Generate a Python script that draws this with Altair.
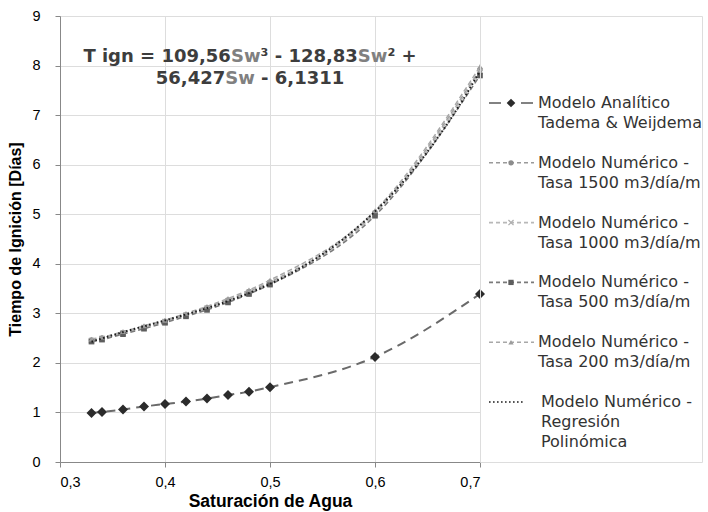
import altair as alt
import pandas as pd

# Saturación de agua (Sw) y tiempos de ignición [días]
sw = [0.33, 0.34, 0.36, 0.38, 0.40, 0.42, 0.44, 0.46, 0.48, 0.50, 0.60, 0.70]
t_analitico = [0.99, 1.01, 1.06, 1.12, 1.17, 1.22, 1.28, 1.35, 1.42, 1.51, 2.12, 3.39]
t_1500 = [2.46, 2.50, 2.61, 2.72, 2.84, 2.97, 3.11, 3.27, 3.44, 3.63, 5.03, 7.92]
t_1000 = [2.45, 2.49, 2.60, 2.71, 2.83, 2.96, 3.10, 3.25, 3.42, 3.61, 5.01, 7.88]
t_500 = [2.43, 2.47, 2.58, 2.69, 2.81, 2.94, 3.07, 3.22, 3.39, 3.58, 4.97, 7.80]
t_200 = [2.48, 2.52, 2.63, 2.75, 2.86, 3.00, 3.14, 3.30, 3.47, 3.67, 5.07, 7.98]

series_num = ["Tasa 1500", "Tasa 1000", "Tasa 500", "Tasa 200"]
series_vals = [t_1500, t_1000, t_500, t_200]
series_line_colors = ["#9a9a9a", "#b8b8b8", "#7a7a7a", "#a8a8a8"]
series_mark_colors = ["#8c8c8c", "#b0b0b0", "#5e5e5e", "#9c9c9c"]
X_SHAPE = "M-1,-1L1,1M-1,1L1,-1"
series_shapes = ["circle", X_SHAPE, "square", "triangle-up"]

legend_lines = [
    ["Modelo Analítico", "Tadema & Weijdema"],
    ["Modelo Numérico -", "Tasa 1500 m3/día/m"],
    ["Modelo Numérico -", "Tasa 1000 m3/día/m"],
    ["Modelo Numérico -", "Tasa 500 m3/día/m"],
    ["Modelo Numérico -", "Tasa 200 m3/día/m"],
    ["Modelo Numérico -", "Regresión", "Polinómica"],
]

FONT = "DejaVu Sans"
W, H = 420, 446

df_an = pd.DataFrame({"sw": sw, "t": t_analitico})
df_num = pd.DataFrame(
    [{"sw": s, "t": v, "serie": name}
     for name, vals in zip(series_num, series_vals)
     for s, v in zip(sw, vals)]
)
one_row = pd.DataFrame({"k": [0]})

x_enc = alt.X(
    "sw:Q",
    scale=alt.Scale(domain=[0.3, 0.7], nice=False),
    axis=alt.Axis(
        values=[0.3, 0.4, 0.5, 0.6, 0.7],
        labelExpr="replace(format(datum.value, '.1f'), '.', ',')",
        title="Saturación de Agua",
        titleFontSize=17.5,
        titlePadding=4,
        labelPadding=8,
        labelFontSize=14.5,
    ),
)
y_enc = alt.Y(
    "t:Q",
    scale=alt.Scale(domain=[0, 9], nice=False),
    axis=alt.Axis(
        values=list(range(10)),
        title="Tiempo de Ignición [Días]",
        titleFontSize=16,
        titlePadding=8,
        labelPadding=15,
        labelFontSize=14.5,
    ),
)

layers = []

# Curva del modelo analítico
layers.append(alt.Chart(df_an).mark_line(
    strokeDash=[9, 6], strokeWidth=2, color="#6a6a6a", interpolate="monotone"
).encode(x=x_enc, y=y_enc))
layers.append(alt.Chart(df_an).mark_point(
    shape="diamond", filled=True, size=100, color="#2b2b2b", opacity=1
).encode(x="sw:Q", y="t:Q"))

# Resultados numéricos por tasa de inyección
for name, lc, mc, shp in zip(series_num, series_line_colors, series_mark_colors, series_shapes):
    sub = alt.Chart(df_num).transform_filter(alt.datum.serie == name)
    layers.append(sub.mark_line(
        strokeDash=[5, 3], strokeWidth=1.5, color=lc, interpolate="monotone"
    ).encode(x="sw:Q", y="t:Q"))
    if shp == X_SHAPE:
        layers.append(sub.mark_point(
            shape=shp, filled=False, size=30, strokeWidth=1.3, color=mc, opacity=1
        ).encode(x="sw:Q", y="t:Q"))
    else:
        layers.append(sub.mark_point(
            shape=shp, filled=True, size=32, color=mc, opacity=1
        ).encode(x="sw:Q", y="t:Q"))

# Ajuste polinómico de grado 3 sobre los resultados numéricos
layers.append(alt.Chart(df_num).transform_regression(
    "sw", "t", method="poly", order=3, extent=[0.33, 0.7]
).mark_line(
    strokeDash=[1.6, 2.4], strokeWidth=2, color="#1e1e1e"
).encode(x="sw:Q", y="t:Q"))

# Ecuación de la regresión, con "Sw" en gris; cada trozo lleva el espacio previo aparte
BOLD_W = {" ": 348, "T": 682, "i": 343, "g": 716, "n": 712, "=": 838,
          ",": 380, "S": 720, "w": 924, "-": 415, "+": 838,
          "\u00b2": 438, "\u00b3": 438}
for d in "0123456789":
    BOLD_W[d] = 696
EQ_SIZE = 18
DARK, GREY = "#3d3d3d", "#808080"
eq_rows = [
    [("T ign = 109,56", DARK, 0), ("Sw", GREY, 0), ("\u00b3 - 128,83", DARK, 0),
     ("Sw", GREY, 0), ("\u00b2 +", DARK, 0)],
    [("56,427", DARK, 0), ("Sw", GREY, 0), ("- 6,1311", DARK, 1)],
]
eq_x, eq_y = [0.481, 0.481], [8.17, 7.73]


def text_width(s):
    return sum(BOLD_W.get(c, 650) for c in s) * EQ_SIZE / 1000.0


SPACE = text_width(" ")
for row, xv, yv in zip(eq_rows, eq_x, eq_y):
    total = sum(text_width(s) + n * SPACE for s, _, n in row)
    offset = -total / 2.0
    for s, col, n in row:
        offset += n * SPACE
        layers.append(
            alt.Chart(one_row).mark_text(
                text=s, align="left", baseline="middle", dx=offset,
                font=FONT, fontSize=EQ_SIZE, fontWeight="bold", color=col,
            ).encode(x=alt.datum(xv), y=alt.datum(yv))
        )
        offset += text_width(s)

main = alt.layer(*layers).properties(width=W, height=H)

# Leyenda construida a la derecha del gráfico
LW = 222
LINE_GAP = 0.335
LX = alt.Scale(domain=[0, LW], nice=False)
LY = alt.Scale(domain=[-1.455, 6.003], reverse=True, nice=False, zero=False)

leg_text = pd.DataFrame(
    [{"y": r + k * LINE_GAP, "txt": line, "x": 61 if r == 5 else 58}
     for r, lines in enumerate(legend_lines) for k, line in enumerate(lines)]
)

leg_sym_rows = [0, 1, 2, 3, 4, 5]
leg_sym_x1 = [9, 9, 9, 9, 9, 9]
leg_sym_x2 = [54, 54, 54, 54, 54, 44]
leg_line_colors = ["#5a5a5a"] + series_line_colors + ["#1e1e1e"]
leg_dashes = [[12, 20], [4, 3], [4, 3], [4, 3], [4, 3], [1.6, 2.4]]
leg_mark_colors = ["#2b2b2b"] + series_mark_colors
leg_shapes = ["diamond"] + series_shapes
leg_sizes = [75, 28, 26, 28, 28]

leg_layers = []
for r, x1, x2, lc, dash in zip(leg_sym_rows, leg_sym_x1, leg_sym_x2, leg_line_colors, leg_dashes):
    d = pd.DataFrame({"y": [r], "x1": [x1], "x2": [x2]})
    leg_layers.append(alt.Chart(d).mark_rule(
        strokeWidth=1.6, color=lc, strokeDash=dash
    ).encode(x=alt.X("x1:Q", scale=LX, axis=None), x2="x2:Q",
             y=alt.Y("y:Q", scale=LY, axis=None)))

for r, mc, shp, sz in zip(leg_sym_rows[:5], leg_mark_colors, leg_shapes, leg_sizes):
    d = pd.DataFrame({"y": [r], "x": [31]})
    if shp == X_SHAPE:
        mk = alt.Chart(d).mark_point(shape=shp, filled=False, size=sz,
                                     strokeWidth=1.3, color=mc, opacity=1)
    else:
        mk = alt.Chart(d).mark_point(shape=shp, filled=True, size=sz,
                                     color=mc, opacity=1)
    leg_layers.append(mk.encode(x=alt.X("x:Q", scale=LX, axis=None),
                                y=alt.Y("y:Q", scale=LY, axis=None)))

leg_layers.append(alt.Chart(leg_text).mark_text(
    align="left", baseline="middle", font=FONT, fontSize=16, color="#333333"
).encode(x=alt.X("x:Q", scale=LX, axis=None),
         y=alt.Y("y:Q", scale=LY, axis=None), text="txt:N"))

legend = alt.layer(*leg_layers).properties(width=LW, height=H)

chart = alt.hconcat(main, legend, spacing=0, bounds="flush").properties(
    padding={"left": 7, "top": 7, "right": 0, "bottom": 0}
).configure_view(stroke=None).configure_axis(
    labelFont=FONT, titleFont=FONT, labelColor="#595959",
    titleColor="#333333", titleFontWeight="bold",
    domainColor="#cccccc", domainWidth=1.5, gridColor="#d9d9d9", gridWidth=1.3,
    ticks=False,
).configure(background="white")

chart.save("out.html", embed_options={"renderer": "svg", "actions": False})
